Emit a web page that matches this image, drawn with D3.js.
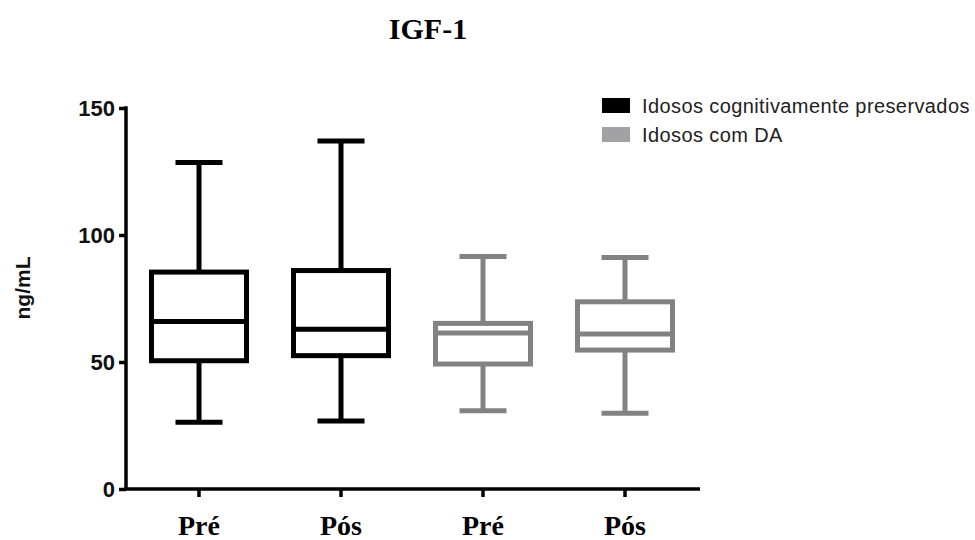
<!DOCTYPE html>
<html>
<head>
<meta charset="utf-8">
<script src="https://cdn.jsdelivr.net/npm/d3@7"></script>
<style>
  html, body { margin: 0; padding: 0; background: #fff; }
  svg { display: block; }
</style>
</head>
<body>
<svg id="chart" width="975" height="540"></svg>
<script>
// ---- data ----
const categories = ["Pré", "Pós", "Pré", "Pós"];
const seriesNames = ["Idosos cognitivamente preservados", "Idosos com DA"];
const seriesOfBox = [0, 0, 1, 1];
const whiskerMin = [26.3, 26.8, 30.8, 29.8];
const q1 = [50.5, 52.5, 49.2, 54.7];
const median = [65.9, 62.9, 61.4, 61.0];
const q3 = [85.4, 86.0, 65.2, 73.7];
const whiskerMax = [128.5, 137.0, 91.5, 91.1];
const yTicks = [0, 50, 100, 150];
const title = "IGF-1";
const yLabel = "ng/mL";

// ---- styles ----
const boxColors = ["#000000", "#828282"];
const legendColors = ["#000000", "#a2a2a5"];

const svg = d3.select("#chart");
const boxes = categories.map((c, i) => ({
  i, cat: c, s: seriesOfBox[i],
  min: whiskerMin[i], q1: q1[i], med: median[i], q3: q3[i], max: whiskerMax[i]
}));

const x = d3.scaleBand().domain(d3.range(categories.length)).range([128, 696]);
const y = d3.scaleLinear().domain([0, 150]).range([489, 108]);

const boxW = 95, capW = 47, sw = 5;

// title
svg.append("text")
  .attr("x", 428).attr("y", 39)
  .attr("text-anchor", "middle")
  .style("font-family", "'Liberation Serif', 'Times New Roman', serif")
  .style("font-weight", "bold").style("font-size", "30px")
  .text(title);

// y axis
const yAxis = svg.append("g").attr("transform", "translate(126,0)")
  .call(d3.axisLeft(y).tickValues(yTicks).tickSize(7).tickPadding(4).tickSizeOuter(0));
yAxis.select(".domain").attr("stroke-width", 3.5).attr("stroke", "#000");
yAxis.selectAll(".tick line").attr("stroke-width", 3.5).attr("stroke", "#000");
yAxis.selectAll(".tick text")
  .style("font-family", "'Liberation Sans', Arial, sans-serif")
  .style("font-weight", "bold").style("font-size", "22px").attr("fill", "#111");
yAxis.select(".domain").attr("d", `M0,${y(0)}V${y(150) - 1.75}`);

// x axis
const xAxis = svg.append("g").attr("transform", `translate(0,${y(0)})`)
  .call(d3.axisBottom(x).tickSize(8).tickSizeOuter(0).tickFormat(i => categories[i]).tickPadding(20));
xAxis.select(".domain").attr("d", `M124.25,0H700`).attr("stroke-width", 3.5).attr("stroke", "#000");
xAxis.selectAll(".tick line").attr("stroke-width", 3.5).attr("stroke", "#000");
xAxis.selectAll(".tick text")
  .attr("dy", null).attr("y", 46)
  .style("font-family", "'Liberation Serif', 'Times New Roman', serif")
  .style("font-weight", "bold").style("font-size", "28px").attr("fill", "#000");

// boxes
const g = svg.append("g").selectAll("g").data(boxes).join("g")
  .attr("transform", d => `translate(${x(d.i) + x.bandwidth() / 2},0)`)
  .attr("stroke", d => boxColors[d.s]).attr("stroke-width", sw).attr("fill", "none");

g.append("line").attr("x1", 0).attr("x2", 0).attr("y1", d => y(d.max)).attr("y2", d => y(d.q3));
g.append("line").attr("x1", 0).attr("x2", 0).attr("y1", d => y(d.q1)).attr("y2", d => y(d.min));
g.append("line").attr("x1", -capW / 2).attr("x2", capW / 2).attr("y1", d => y(d.max)).attr("y2", d => y(d.max));
g.append("line").attr("x1", -capW / 2).attr("x2", capW / 2).attr("y1", d => y(d.min)).attr("y2", d => y(d.min));
g.append("rect").attr("x", -boxW / 2).attr("width", boxW)
  .attr("y", d => y(d.q3)).attr("height", d => y(d.q1) - y(d.q3)).attr("fill", "#fff");
g.append("line").attr("x1", -boxW / 2).attr("x2", boxW / 2).attr("y1", d => y(d.med)).attr("y2", d => y(d.med));

// y label
svg.append("text")
  .attr("transform", "translate(30,288) rotate(-90)")
  .attr("text-anchor", "middle")
  .style("font-family", "'Liberation Sans', Arial, sans-serif")
  .style("font-weight", "bold").style("font-size", "21px").attr("fill", "#111")
  .text(yLabel);

// legend
const leg = svg.append("g").selectAll("g").data(seriesNames).join("g")
  .attr("transform", (d, i) => `translate(602,${98 + i * 29})`);
leg.append("rect").attr("width", 28).attr("height", 15).attr("fill", (d, i) => legendColors[i]);
leg.append("text").attr("x", 40).attr("y", 15)
  .style("font-family", "'Liberation Sans', Arial, sans-serif")
  .style("font-size", "20px").style("letter-spacing", "0.4px").attr("fill", "#222")
  .text(d => d);
</script>
</body>
</html>
